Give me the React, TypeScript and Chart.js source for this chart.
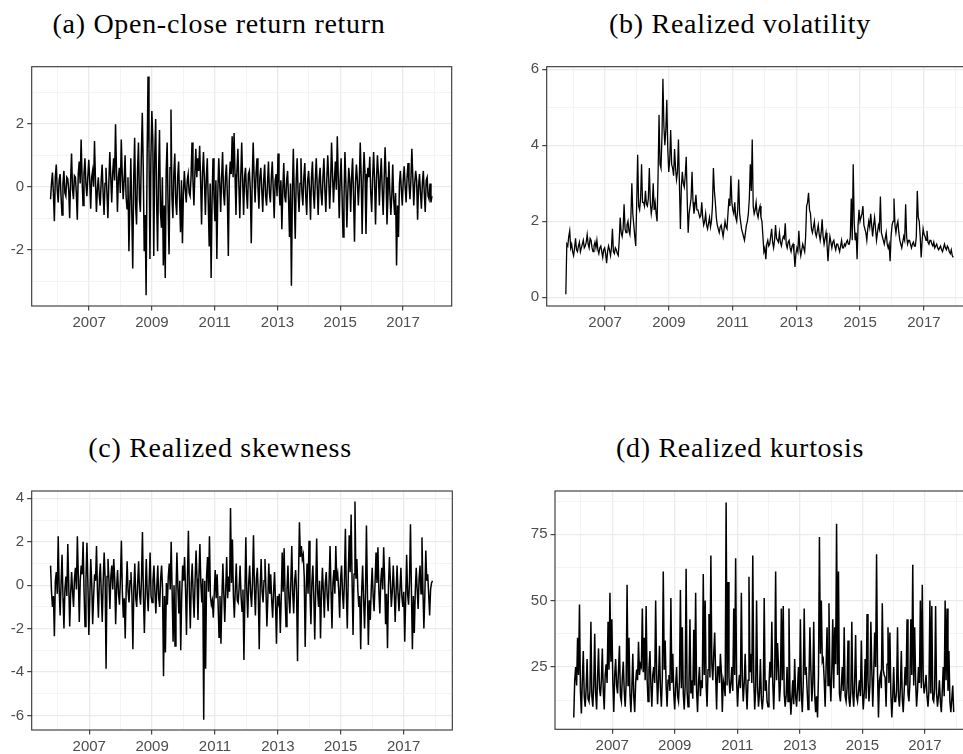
import React, { useEffect, useRef } from 'react';
import { Chart, registerables } from 'chart.js';

Chart.register(...registerables);

// Time index of the series (decimal years) and axis extent
const DATE_START = 2005.77;
const DATE_END = 2017.92;
const X_MIN = 2005.17;
const X_MAX = 2018.55;
const YEAR_TICKS = [2006, 2007, 2008, 2009, 2010, 2011, 2012, 2013, 2014, 2015, 2016, 2017, 2018];
const YEAR_LABELS = [2007, 2009, 2011, 2013, 2015, 2017];

// (a) Open-close return
const OPEN_CLOSE_RETURN = [
  -0.4, 0.1, 0.45, -0.2, -1.1, 0.3, 0.7, -0.1, -0.5, 0.2, 0.4, -0.3, -0.9, 0.1, 0.5, -0.2, -0.3, 0.3, 0.25, -0.1,
  -1.0, 0.2, 1.05, -0.1, -0.4, 0.35, 0.3, -0.2, -1.05, 0.4, 0.8, 0.1, 1.5, 0.3, -0.6, 0.4, 0.9, 0.1, -0.3, 0.3,
  0.85, 0.2, -0.7, 0.3, 0.5, 0.0, 1.45, 0.2, -0.8, -0.1, 0.3, -0.3, -0.6, 0.2, 0.7, -0.2, -0.9, 0.1, 0.6, -0.2,
  -1.0, 0.1, 1.1, 0.3, -0.5, 0.4, 0.9, 0.2, 1.98, 0.5, -0.8, 0.3, 0.6, -0.2, 1.5, 0.4, -0.4, 0.2, 1.0, -0.3,
  -0.7, 0.3, -2.05, -0.5, 0.9, -0.8, -2.6, 0.2, 1.55, -0.6, -1.2, 0.5, 1.4, -0.4, -0.8, 1.0, 2.35, 0.6, -2.05, -0.9,
  -3.45, 0.8, 3.5, 1.2, -2.3, 0.9, 2.4, 1.5, -2.2, 1.0, 2.15, -0.5, -2.05, 0.4, 1.8, -0.8, -1.3, 0.3, -2.5, -0.6,
  -2.9, 0.5, 1.4, -0.7, -2.15, 0.6, 2.45, -0.3, -1.0, 0.4, 1.05, -0.5, -0.9, 0.3, 0.8, -0.4, -1.45, 0.2, -1.8, -0.2,
  0.5, -0.1, -0.5, 0.2, 0.4, -0.2, -0.3, 0.3, 1.4, 0.2, -0.6, 0.4, 1.2, 0.3, 0.9, 0.5, 1.3, 0.2, -1.2, 0.4,
  1.1, 0.2, -0.9, 0.3, 0.9, -0.5, -1.9, 0.1, -2.9, -0.4, 0.9, -0.3, -1.1, 0.2, -2.3, -0.2, 0.9, 0.1, -0.8, 0.3,
  1.1, -0.2, -0.6, 0.3, 0.7, -0.3, -2.2, 0.2, 0.8, 0.4, 1.6, 0.3, 1.7, 0.4, -0.9, 0.5, 1.2, 0.1, -1.0, 0.3,
  1.4, 0.2, -0.9, 0.3, 0.6, -0.2, -0.7, 0.4, 0.5, -0.1, -1.8, 0.2, 1.4, 0.3, -0.5, 0.4, 0.9, 0.0, -0.7, 0.3,
  0.6, -0.1, -0.8, 0.2, 0.7, -0.3, -0.6, 0.1, 0.8, -0.2, -0.5, 0.3, 0.8, -0.1, -1.0, 0.2, 0.4, -0.3, 1.05, 0.1,
  -0.6, 0.2, -1.35, -0.1, 0.75, -0.3, -0.5, 0.2, 0.5, -0.4, -1.6, 0.1, -3.15, -0.2, 1.2, -0.3, -1.65, 0.2, 0.9, -0.2,
  -0.8, 0.1, 0.9, -0.2, -0.6, 0.3, 0.75, -0.3, -0.9, 0.2, 0.5, -0.1, -1.05, 0.3, 0.8, -0.2, -0.7, 0.2, 0.9, 0.0,
  -0.9, 0.2, 0.6, -0.2, -0.6, 0.3, 0.9, -0.1, -0.8, 0.2, 1.0, 0.3, -0.7, 0.1, 1.4, 0.4, -0.5, 0.2, 0.8, -0.1,
  1.6, 0.3, -1.0, 0.2, 0.9, -0.3, -1.6, -0.4, 1.1, 0.1, -1.3, -0.2, 0.6, 0.2, -0.8, 0.3, 0.9, -0.3, -1.75, 0.1,
  0.7, 0.2, -0.6, 0.1, 1.4, 0.3, -1.5, 0.2, 1.1, 0.4, -1.5, 0.1, 0.6, 0.3, 0.95, -0.2, -0.8, 0.3, 1.1, 0.2,
  -1.2, 0.2, 1.0, 0.4, -0.6, 0.3, 0.9, -0.1, -0.9, 0.2, 1.25, 0.3, -1.2, -0.3, 0.8, -0.2, -0.9, -0.3, 0.7, -0.4,
  -0.9, -0.2, -2.5, -0.6, -1.6, 0.1, 0.5, -0.1, -0.6, 0.2, 0.65, 0.0, -0.5, 0.3, 0.75, 0.1, -0.4, 0.2, 1.2, 0.3,
  -0.6, 0.1, 0.5, 0.2, -1.05, 0.0, 0.4, -0.2, -0.7, 0.1, 0.5, -0.2, -0.8, 0.2, 0.3, -0.3, -0.4, 0.1, -0.5, -0.3,
];

// (b) Realized volatility
const REALIZED_VOLATILITY = [
  0.08, 1.4, 1.35, 1.6, 1.75, 1.3, 1.4, 1.2, 1.1, 1.3, 1.55, 1.25, 1.2, 1.35, 1.45, 1.2, 1.3, 1.4, 1.5, 1.3,
  1.35, 1.45, 1.65, 1.4, 1.3, 1.55, 1.5, 1.3, 1.2, 1.35, 1.45, 1.3, 1.5, 1.25, 1.15, 1.3, 1.35, 1.2, 1.05, 1.25,
  1.3, 1.15, 0.9, 1.2, 1.35, 1.25, 1.1, 1.3, 1.8, 1.2, 1.15, 1.3, 1.25, 1.15, 1.1, 1.5, 2.1, 1.7, 1.6, 1.8,
  2.45, 1.8, 1.7, 1.9, 2.0, 1.75, 1.65, 2.1, 3.0, 2.2, 1.9, 1.6, 1.35, 2.5, 3.75, 2.4, 2.3, 2.6, 3.5, 2.5,
  2.5, 2.4, 2.8, 2.45, 2.4, 2.6, 3.4, 2.5, 2.2, 2.4, 3.0, 2.3, 2.5, 2.2, 2.0, 3.2, 4.8, 3.5, 3.4, 4.2,
  5.75, 4.5, 4.0, 4.4, 5.2, 3.9, 3.3, 3.6, 4.4, 3.5, 3.4, 3.2, 3.9, 3.4, 3.1, 3.3, 4.15, 3.0, 1.8, 2.9,
  3.3, 3.0, 2.9, 3.2, 3.7, 2.6, 1.7, 2.2, 2.4, 2.6, 3.3, 2.5, 2.2, 2.4, 2.7, 2.3, 2.3, 2.2, 2.1, 2.15,
  2.5, 2.1, 1.9, 2.0, 2.2, 1.9, 1.8, 1.95, 2.1, 1.85, 2.0, 2.4, 3.4, 2.8, 2.5, 2.1, 1.9, 1.8, 1.7, 1.85,
  1.9, 1.75, 1.6, 1.8, 2.0, 1.85, 1.8, 2.2, 2.6, 2.4, 3.2, 2.5, 2.3, 2.2, 2.5, 2.1, 2.0, 2.3, 3.1, 2.2,
  2.0, 1.8, 1.7, 1.6, 1.5, 1.7, 1.9, 2.0, 2.2, 2.6, 3.5, 2.8, 4.15, 2.4, 2.2, 2.3, 2.5, 2.2, 2.1, 2.3,
  2.4, 2.1, 2.0, 1.6, 1.2, 1.3, 1.0, 1.4, 1.5, 1.35, 1.4, 1.6, 1.8, 1.45, 1.3, 1.5, 1.9, 1.55, 1.5, 1.45,
  1.7, 1.45, 1.35, 1.5, 1.6, 1.55, 1.95, 1.4, 1.3, 1.45, 1.5, 1.3, 1.2, 1.35, 1.4, 1.2, 0.8, 1.15, 1.3, 1.2,
  1.75, 1.3, 1.1, 1.25, 1.4, 1.3, 1.2, 1.6, 2.4, 2.5, 2.75, 2.3, 2.2, 1.8, 1.7, 1.85, 2.0, 1.7, 1.6, 1.75,
  1.9, 1.65, 1.5, 1.7, 2.05, 1.6, 1.4, 1.55, 1.7, 1.4, 0.95, 1.35, 1.6, 1.45, 1.3, 1.45, 1.5, 1.35, 1.25, 1.4,
  1.4, 1.3, 1.2, 1.35, 1.5, 1.3, 1.3, 1.4, 1.35, 1.45, 1.5, 1.4, 1.4, 1.6, 2.6, 1.5, 3.5, 2.0, 1.5, 1.7,
  1.0, 1.9, 2.3, 2.0, 2.0, 2.2, 2.4, 1.9, 1.8, 1.7, 1.5, 1.8, 2.0, 1.85, 2.2, 1.9, 1.6, 1.9, 2.1, 1.8,
  1.5, 1.7, 1.9, 1.8, 2.65, 1.7, 1.6, 1.5, 1.4, 1.55, 1.7, 1.4, 1.3, 1.4, 0.95, 1.6, 1.9, 2.0, 2.6, 1.9,
  1.7, 1.9, 2.0, 1.7, 1.5, 1.4, 1.3, 1.45, 1.6, 1.5, 2.45, 1.6, 1.4, 1.5, 1.5, 1.4, 1.3, 1.4, 1.45, 1.35,
  1.35, 1.6, 2.8, 2.1, 2.0, 1.6, 1.05, 1.5, 1.8, 1.65, 1.6, 1.5, 1.75, 1.45, 1.4, 1.5, 1.5, 1.4, 1.35, 1.45,
  1.3, 1.35, 1.4, 1.3, 1.25, 1.3, 1.35, 1.25, 1.2, 1.3, 1.4, 1.3, 1.25, 1.35, 1.3, 1.2, 1.15, 1.25, 1.1, 1.05,
];

// (c) Realized skewness
const REALIZED_SKEWNESS = [
  0.9, -0.3, -1.0, -0.5, -2.35, 0.2, 0.6, -0.4, 2.25, -0.2, -1.4, 0.1, 1.4, -0.6, -2.0, -0.2, 0.4, -0.5, 1.9, 0.0,
  -1.9, -0.4, 0.6, -0.3, -1.0, 0.3, 0.8, -0.2, 2.25, 0.4, -1.7, 0.2, 0.9, 0.5, 2.0, -0.3, -1.9, 0.3, 1.95, 0.1,
  -2.3, -0.6, 1.2, 0.1, -1.8, -0.5, 0.5, 0.2, 1.8, -0.3, -1.5, 0.3, 1.0, -0.4, -1.7, 0.2, 1.5, 0.3, -3.85, 0.4,
  1.2, 0.2, -1.1, 0.4, 0.9, -0.2, 1.2, 0.3, -1.8, -0.1, 0.7, -0.4, -0.9, 0.3, 2.05, -0.3, -1.5, -0.6, -2.45, -0.2,
  1.1, -0.3, -0.8, 0.2, 0.6, -0.5, -2.95, -0.2, 1.0, -0.6, -1.0, 0.1, 1.1, -0.4, -0.9, 0.3, 2.45, -0.5, -2.2, -0.3,
  1.2, -0.4, -1.2, 0.1, 1.5, -0.5, -0.8, 0.2, 0.9, -0.3, -1.3, -0.1, 0.9, -0.6, -1.0, 0.3, 0.9, -0.2, -4.2, -0.5,
  -3.1, 0.1, -0.9, 0.4, 1.0, -0.2, 2.0, -0.3, -2.6, 0.0, -2.8, -0.4, 1.5, -0.1, -1.3, 0.2, -3.0, -0.5, 0.9, 0.2,
  1.3, -0.2, -2.3, 0.3, 2.5, -0.3, -2.0, 0.1, 1.0, -0.5, -1.5, 0.2, 1.6, 0.3, -1.6, 0.4, 1.9, 0.1, -0.8, 0.3,
  -6.2, 0.2, -3.85, 0.4, 1.3, -0.3, 2.25, -0.5, -0.9, -0.7, -1.5, -0.4, 0.7, -0.6, 0.5, -0.8, -2.4, -0.5, -2.7, -0.6,
  1.0, -0.4, -1.7, -0.2, 1.3, -0.6, 0.4, -0.3, 3.55, 0.1, 2.1, -0.5, -1.5, -0.2, 1.0, -0.7, -0.8, -0.1, 0.9, -0.5,
  -1.2, -0.2, -3.45, -0.5, 2.2, -0.3, -1.5, 0.1, 0.9, -0.4, -1.0, 0.2, 2.3, -0.2, -1.4, 0.3, 0.8, -0.4, -2.95, -0.1,
  1.2, -0.3, -0.8, 0.2, 1.2, -0.2, -1.9, -0.6, 1.0, -0.4, 0.5, -0.7, -1.5, -0.3, 0.6, -0.8, -2.7, -0.5, -0.8, -0.4,
  -2.2, -0.6, 1.5, -0.3, 1.7, -0.5, -1.9, -0.2, 0.9, -0.6, -1.3, 0.1, 1.8, -0.4, -1.3, 0.2, 0.7, -0.3, -3.5, 0.3,
  2.9, 1.3, 1.8, 1.2, 1.4, 0.4, -2.85, -0.2, 1.0, -0.4, 2.05, -0.3, -1.8, 0.1, 0.9, -0.5, -2.5, -0.2, 2.15, -0.3,
  -1.0, 0.2, -2.45, -0.4, 0.8, -0.3, -1.5, 0.1, 0.6, -0.5, -1.2, 0.2, 1.8, -0.3, -2.0, 0.1, 0.7, -0.4, 1.8, 0.2,
  0.5, -0.2, -1.5, 0.3, 0.9, -0.4, -1.1, 0.2, 2.6, -0.3, -2.0, 0.4, 2.3, 0.6, 3.25, 0.2, -2.3, 0.5, 3.85, 0.3,
  1.2, -0.2, -1.0, -0.5, -2.95, -0.3, 0.9, -0.6, -2.0, -0.4, 2.75, -0.3, -2.75, -0.7, -1.6, -0.2, 0.8, -0.5, -1.2, 0.1,
  1.5, 0.1, 1.75, -0.3, -1.3, 0.2, 0.8, -0.2, 1.75, 0.3, -1.8, -0.4, -2.9, -0.1, 1.3, 0.2, -1.0, -0.3, 0.9, -0.2,
  -1.7, -0.3, 0.9, -0.4, -1.2, -0.2, 0.8, -0.5, -1.0, -0.3, -2.6, -0.6, 1.4, -0.4, -0.9, 0.2, 2.8, -0.3, -2.95, -0.5,
  -2.2, -0.3, 0.8, -0.2, -1.1, 0.3, 0.9, -0.4, 2.2, -0.2, -2.0, -0.5, 1.6, 0.2, 0.5, -0.4, -1.4, -0.2, 0.1, 0.2,
];

// (d) Realized kurtosis
const REALIZED_KURTOSIS = [
  6, 20, 25, 18, 36, 22, 48.5, 16, 7.5, 20, 31, 14, 10, 17, 28, 13, 12, 16, 42, 14,
  10, 18, 37.5, 15, 9, 21, 32, 17, 14, 20, 32, 16, 9, 22, 26, 19, 42, 24, 53, 27,
  43, 20, 8, 22, 28, 18, 15, 24, 33, 14, 12, 21, 27, 16, 10, 19, 56, 18, 36, 15,
  8, 17, 30, 14, 8, 19, 24, 20, 34.5, 22, 26, 25, 47, 23, 36, 20, 48, 21, 12, 24,
  31, 18, 10, 22, 25, 19, 50, 23, 11, 20, 33, 17, 10, 21, 61, 24, 35, 18, 10, 20,
  22, 16, 51, 19, 30, 15, 9, 18, 25, 14, 12, 20, 54, 17, 40, 15, 9, 18, 62, 16,
  10, 19, 43, 15, 20, 13, 39, 18, 53, 16, 8, 19, 25, 14, 20, 17, 60, 22, 50, 18,
  10, 24, 45, 21, 67, 26, 20, 30, 38, 22, 9, 25, 25, 19, 30, 23, 8, 20, 18, 14,
  87, 18, 57, 21, 15, 19, 25, 16, 47, 22, 66, 20, 10, 18, 22, 17, 53, 21, 12, 19,
  30, 17, 9, 20, 59, 23, 30, 19, 67, 21, 9, 16, 50, 18, 10, 15, 28, 13, 9, 14,
  51, 16, 20, 12, 10, 18, 27, 21, 42, 19, 9, 22, 61, 20, 34, 25, 12, 18, 47, 20,
  48, 15, 10, 14, 25, 12, 47, 16, 7, 13, 20, 11, 28, 14, 10, 17, 25, 12, 43, 15,
  8, 19, 47, 22, 25, 17, 9, 20, 40, 24, 12, 19, 42, 15, 8, 14, 6, 22, 74, 30,
  50, 27, 28, 20, 10, 25, 40, 18, 49, 21, 12, 24, 43, 17, 40, 26, 79, 22, 61, 15,
  12, 18, 25, 16, 40, 14, 12, 17, 35, 13, 10, 16, 42, 15, 10, 20, 37, 14, 12, 16,
  20, 14, 35, 17, 9, 15, 28, 13, 45, 20, 12, 18, 42, 24, 10, 22, 38, 25, 67.5, 23,
  6, 20, 22, 17, 49, 24, 22, 21, 10, 26, 40, 19, 38, 15, 6, 14, 25, 12, 12, 16,
  40, 14, 10, 17, 31, 13, 8, 16, 25, 18, 43, 15, 12, 19, 43, 22, 63.5, 18, 40, 20,
  10, 16, 25, 19, 50, 17, 56, 20, 15, 18, 22, 14, 10, 16, 50, 15, 48, 13, 12, 17,
  48, 15, 10, 14, 20, 12, 8, 16, 25, 14, 50, 20, 47, 16, 31, 12, 8, 13, 18, 8,
];

// Y-axis breaks: all grid breaks and the labelled (major) ones
const RETURN_TICKS = [-3, -2, -1, 0, 1, 2, 3];
const RETURN_LABELS = [-2, 0, 2];
const VOL_TICKS = [0, 1, 2, 3, 4, 5, 6];
const VOL_LABELS = [0, 2, 4, 6];
const SKEW_TICKS = [-6, -5, -4, -3, -2, -1, 0, 1, 2, 3, 4];
const SKEW_LABELS = [-6, -4, -2, 0, 2, 4];
const KURT_TICKS = [12.5, 25, 37.5, 50, 62.5, 75, 87.5];
const KURT_LABELS = [25, 50, 75];

const TICK_FONT = { family: "'Liberation Sans', Arial, Helvetica, sans-serif", size: 15 };

type PanelSpec = {
  title: string;
  values: number[];
  lineWidth: number;
  yMin: number;
  yMax: number;
  yTicks: number[];
  yLabels: number[];
  left: number;
  top: number;
  width: number;
  height: number;
  yAxisWidth: number;
  xAxisHeight: number;
  padTop: number;
  padRight: number;
  titleX: number;
  titleTop: number;
};

const PANELS: PanelSpec[] = [
  {
    title: '(a) Open-close return return', values: OPEN_CLOSE_RETURN, lineWidth: 1.5,
    yMin: -3.79, yMax: 3.81, yTicks: RETURN_TICKS, yLabels: RETURN_LABELS,
    left: 0, top: 50, width: 470, height: 290, yAxisWidth: 31.7, xAxisHeight: 34,
    padTop: 16.7, padRight: 18.3, titleX: 219, titleTop: 9.5,
  },
  {
    title: '(b) Realized volatility', values: REALIZED_VOLATILITY, lineWidth: 1.3,
    yMin: -0.229, yMax: 6.068, yTicks: VOL_TICKS, yLabels: VOL_LABELS,
    left: 480, top: 50, width: 510, height: 290, yAxisWidth: 66.7, xAxisHeight: 34,
    padTop: 16.7, padRight: 16.7, titleX: 740, titleTop: 9.5,
  },
  {
    title: '(c) Realized skewness', values: REALIZED_SKEWNESS, lineWidth: 1.5,
    yMin: -6.67, yMax: 4.336, yTicks: SKEW_TICKS, yLabels: SKEW_LABELS,
    left: 0, top: 475, width: 470, height: 290, yAxisWidth: 31.7, xAxisHeight: 35,
    padTop: 16, padRight: 17.7, titleX: 220, titleTop: 434,
  },
  {
    title: '(d) Realized kurtosis', values: REALIZED_KURTOSIS, lineWidth: 1.5,
    yMin: 1.52, yMax: 91.3, yTicks: KURT_TICKS, yLabels: KURT_LABELS,
    left: 480, top: 475, width: 510, height: 290, yAxisWidth: 75, xAxisHeight: 35.7,
    padTop: 16, padRight: 16.6, titleX: 740, titleTop: 434,
  },
];

function makeAxis(min: number, max: number, ticks: number[], labels: number[], isX: boolean, size: number) {
  const major = (v: any) => labels.indexOf(v) >= 0;
  return {
    type: 'linear',
    bounds: 'data',
    min,
    max,
    afterBuildTicks: (s: any) => {
      s.ticks = ticks.map((v) => ({ value: v }));
    },
    afterFit: (s: any) => {
      if (isX) s.height = size;
      else s.width = size;
    },
    border: { display: false },
    grid: {
      color: (c: any) => (major(c.tick && c.tick.value) ? '#EBEBEB' : '#F3F3F3'),
      lineWidth: (c: any) => (major(c.tick && c.tick.value) ? 1.3 : 0.9),
      drawTicks: true,
      tickLength: 4.5,
      tickWidth: 1.1,
      tickColor: (c: any) => (major(c.tick && c.tick.value) ? '#333333' : 'rgba(0,0,0,0)'),
    },
    ticks: {
      autoSkip: false,
      maxRotation: 0,
      minRotation: 0,
      padding: 3,
      color: '#4D4D4D',
      font: TICK_FONT,
      callback: (v: any) => (major(v) ? String(v) : ''),
    },
  };
}

const panelBorder = {
  id: 'panelBorder',
  afterDraw(chart: any) {
    const { ctx, chartArea: a } = chart;
    ctx.save();
    ctx.strokeStyle = '#333333';
    ctx.lineWidth = 1.1;
    ctx.strokeRect(a.left, a.top, a.right - a.left, a.bottom - a.top);
    ctx.restore();
  },
};

function Panel({ spec }: { spec: PanelSpec }) {
  const ref = useRef<HTMLCanvasElement | null>(null);
  useEffect(() => {
    if (!ref.current) return;
    const n = spec.values.length;
    const points = spec.values.map((v, i) => ({
      x: DATE_START + (i * (DATE_END - DATE_START)) / (n - 1),
      y: v,
    }));
    const chart = new Chart(ref.current, {
      type: 'line',
      data: {
        datasets: [
          {
            data: points,
            borderColor: '#000000',
            borderWidth: spec.lineWidth,
            borderJoinStyle: 'miter',
            pointRadius: 0,
            tension: 0,
            fill: false,
          },
        ],
      },
      options: {
        animation: false,
        responsive: false,
        maintainAspectRatio: false,
        devicePixelRatio: 1,
        events: [],
        layout: { padding: { top: spec.padTop, right: spec.padRight, left: 0, bottom: 0 } },
        plugins: {
          legend: { display: false },
          tooltip: { enabled: false },
          title: { display: false },
        },
        scales: {
          x: makeAxis(X_MIN, X_MAX, YEAR_TICKS, YEAR_LABELS, true, spec.xAxisHeight) as any,
          y: makeAxis(spec.yMin, spec.yMax, spec.yTicks, spec.yLabels, false, spec.yAxisWidth) as any,
        },
      },
      plugins: [panelBorder],
    } as any);
    return () => chart.destroy();
  }, [spec]);

  return (
    <>
      <div
        style={{
          position: 'absolute',
          left: spec.titleX,
          top: spec.titleTop,
          transform: 'translateX(-50%)',
          whiteSpace: 'nowrap',
          fontFamily: "'Liberation Serif', 'Times New Roman', serif",
          fontSize: 28,
          lineHeight: '28px',
          letterSpacing: '0.7px',
          color: '#000000',
        }}
      >
        {spec.title}
      </div>
      <canvas
        ref={ref}
        width={spec.width}
        height={spec.height}
        style={{
          position: 'absolute',
          left: spec.left,
          top: spec.top,
          width: spec.width,
          height: spec.height,
        }}
      />
    </>
  );
}

export default function App() {
  return (
    <div
      style={{
        position: 'absolute',
        left: 0,
        top: 0,
        width: 963,
        height: 754,
        overflow: 'hidden',
        background: '#ffffff',
      }}
    >
      {PANELS.map((p) => (
        <Panel key={p.title} spec={p} />
      ))}
    </div>
  );
}
